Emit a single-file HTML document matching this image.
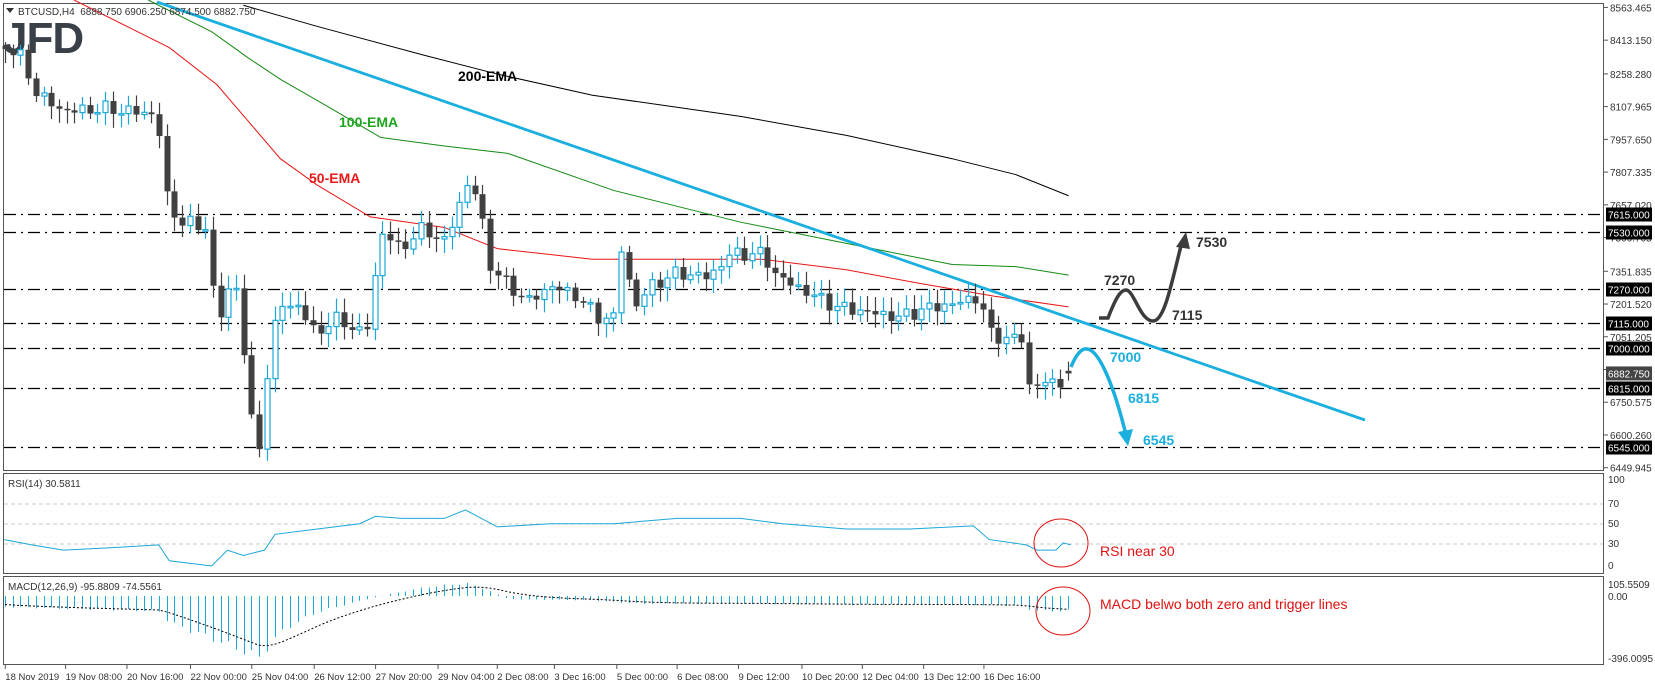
<!DOCTYPE html>
<html><head><meta charset="utf-8"><style>
html,body{margin:0;padding:0;background:#fff;}
svg{display:block;font-family:"Liberation Sans",Tahoma,sans-serif;}
</style></head><body>
<svg id="s" width="1655" height="686" viewBox="0 0 1655 686" xmlns="http://www.w3.org/2000/svg"></svg>
<script>
const S=document.getElementById('s');let h='';
const K=1.058;
function line(x1,y1,x2,y2,c,w,d){h+=`<line x1="${x1}" y1="${y1}" x2="${x2}" y2="${y2}" stroke="${c}" stroke-width="${w||1}" ${d?`stroke-dasharray="${d}"`:''}/>`;}
function txt(x,y,t,sz,c,extra){h+=`<text x="${x}" y="${y}" font-size="${sz}" fill="${c}" ${extra||''}>${t}</text>`;}
function poly(pts,c,w,d){h+=`<polyline fill="none" stroke="${c}" stroke-width="${w}" ${d?`stroke-dasharray="${d}"`:''} points="${pts.map(p=>p.join(',')).join(' ')}"/>`;}
function interp(kp,x){for(let i=0;i<kp.length-1;i++){if(x>=kp[i][0]&&x<=kp[i+1][0]){const t=(x-kp[i][0])/(kp[i+1][0]-kp[i][0]);return kp[i][1]+t*(kp[i+1][1]-kp[i][1]);}}return x<kp[0][0]?kp[0][1]:kp[kp.length-1][1];}
const sc=a=>a.map(p=>[p[0]*K,p[1]*K]);
h+=`<rect x="3.5" y="3.5" width="1600" height="467" fill="none" stroke="#555"/>`;
h+=`<rect x="3.5" y="473.5" width="1600" height="100" fill="none" stroke="#555"/>`;
h+=`<rect x="3.5" y="576.5" width="1600" height="88" fill="none" stroke="#555"/>`;
const yP=p=>447-(p-6545)/4.592;
// logo first (behind)
txt(3,53,'JFD',44,'#3a4048',' font-weight="bold" letter-spacing="-1"');
[8563.465,8413.150,8258.280,8107.965,7957.650,7807.335,7657.020,7506.705,7351.835,7201.520,7051.205,6900.890,6750.575,6600.260,6449.945].forEach(p=>{const y=yP(p);line(1604,y,1608,y,'#555');txt(1610,y+4,p.toFixed(3),10,'#333');});
[[7615,'7615.000'],[7530,'7530.000'],[7270,'7270.000'],[7115,'7115.000'],[7000,'7000.000'],[6815,'6815.000'],[6545,'6545.000']].forEach(([p,t])=>{const y=Math.round(yP(p))+.5;line(4,y,1603,y,'#000',1.2,'12,5,2,5');h+=`<rect x="1606" y="${y-7}" width="46" height="14" fill="#000"/>`;txt(1608,y+4,t,10,'#fff');});
{const y=yP(6882.75);h+=`<rect x="1606" y="${y-7}" width="46" height="14" fill="#444"/>`;txt(1608,y+4,'6882.750',10,'#fff');}
poly(sc([[230,5],[300,25],[400,52],[470,70],[560,90],[700,110],[800,128],[900,150],[960,165],[1010,185]]),'#000',1);
poly(sc([[140,0],[200,30],[235,55],[265,75],[300,95],[360,130],[420,138],[480,145],[580,180],[640,195],[700,210],[800,230],[900,250],[960,252],[1010,260]]),'#138a13',1);
poly(sc([[70,0],[130,30],[160,45],[205,80],[235,115],[265,150],[300,175],[350,205],[420,215],[470,235],[560,245],[660,245],[720,245],[800,255],[870,268],[940,280],[1010,290]]),'#e81515',1);
line(157,2,1365,420,'#1aafde',2.8);
const kp=sc([[0,40],[20,55],[35,90],[60,105],[100,103],[148,108],[158,190],[170,210],[195,215],[205,310],[215,275],[225,270],[235,390],[245,420],[255,330],[265,285],[280,290],[300,315],[320,300],[345,320],[352,270],[362,220],[380,235],[400,215],[420,230],[440,175],[452,185],[462,250],[480,270],[500,285],[520,270],[545,280],[565,300],[580,300],[587,235],[600,290],[615,270],[640,258],[670,262],[690,240],[720,240],[735,262],[770,280],[790,290],[820,295],[850,300],[870,293],[910,285],[925,280],[935,315],[950,320],[966,320],[972,365],[985,362],[1000,362],[1010,350]]);
let prev=interp(kp,5);
for(let i=0;i<=138;i++){const x=5+i*7.7;let c=interp(kp,x)+Math.sin(i*2.3)*5+Math.cos(i*1.7)*3;if(i==138)c=yP(6882.75);
const o=i==138?yP(6895):prev;const top=Math.min(o,c),bot=Math.max(o,c);const wt=top-(4+Math.abs(Math.sin(i*3.1))*10),wb=bot+(4+Math.abs(Math.cos(i*2.7))*10);
const bull=c<o;const col=bull?'#1ba9d9':'#404040';const xc=Math.round(x)+.5;
line(xc,wt,xc,wb,col,1.2);
const hgt=Math.max(bot-top,1.5);
if(bull)h+=`<rect x="${xc-2.5}" y="${top}" width="5" height="${hgt}" fill="#fff" stroke="${col}" stroke-width="1.2"/>`;
else h+=`<rect x="${xc-3}" y="${top}" width="6" height="${hgt}" fill="${col}"/>`;
prev=c;}
const b='font-weight="bold"';
txt(458,81,'200-EMA',14,'#000',b);txt(339,127,'100-EMA',14,'#1ea51e',b);txt(309,183,'50-EMA',14,'#e81a1a',b);
h+=`<path d="M1099,318 L1108,318 C1115,300 1120,290 1126,290 C1134,290 1140,321 1153,321 C1165,321 1172,280 1182,242" fill="none" stroke="#3c3c3c" stroke-width="3.5"/>`;
h+=`<polygon points="1186,232 1176,247 1190,249" fill="#3c3c3c"/>`;
txt(1104,285,'7270',14,'#333',b);txt(1172,320,'7115',14,'#333',b);txt(1196,247,'7530',14,'#333',b);
h+=`<path d="M1071,367 C1077,352 1083,348 1087,349 C1100,350 1115,390 1126,435" fill="none" stroke="#1aafde" stroke-width="3.5"/>`;
h+=`<polygon points="1128,446 1118,432 1133,429" fill="#1aafde"/>`;
txt(1110,362,'7000',14,'#1aafde',b);txt(1128,403,'6815',14,'#1aafde',b);txt(1143,445,'6545',14,'#1aafde',b);
h+=`<polygon points="6,8 14,8 10,13" fill="#333"/>`;
txt(18,15,'BTCUSD,H4&nbsp; 6888.750 6906.250 6874.500 6882.750',10,'#333');
[[504,70],[524,50],[544,30]].forEach(([y,v])=>{line(4,y,1603,y,'#c8c8c8',1,'4,3');});
[[100,483],[70,507],[50,527],[30,547],[0,569]].forEach(([v,y])=>txt(1608,y,v,10,'#333'));
txt(8,487,'RSI(14) 30.5811',10,'#333');
poly(sc([[4,510],[30,515],[60,520],[100,518],[150,515],[160,530],[200,535],[215,520],[230,525],[250,520],[260,505],[300,500],[340,495],[355,488],[380,490],[420,490],[440,482],[455,490],[470,498],[520,495],[580,495],[640,490],[700,490],[740,495],[800,500],[860,500],[920,497],[935,510],[970,515],[980,520],[998,520],[1005,513],[1012,515]]),'#1aa7d8',1);
h+=`<ellipse cx="1061" cy="543" rx="27" ry="24" fill="none" stroke="#e01010" stroke-width="1"/>`;
txt(1100,556,'RSI near 30',14,'#e01010');
txt(1608,588,'105.5509',10,'#333');txt(1608,600,'0.00',10,'#333');txt(1608,662,'-396.0095',10,'#333');
txt(8,590,'MACD(12,26,9) -95.8809 -74.5561',10,'#333');
const hk=[[0,-10],[150,-14],[160,-25],[200,-40],[230,-52],[245,-58],[255,-45],[270,-30],[300,-15],[350,-2],[400,8],[440,12],[460,6],[480,-3],[560,-4],[600,-7],[700,-7],[800,-8],[900,-8],[960,-9],[980,-14],[1010,-14]].map(p=>[p[0]*K,p[1]*K]);
const sig=[];
for(let i=0;i<=138;i++){const x=5+i*7.7;const v=interp(hk,x)*(1+0.08*Math.sin(i*1.9));const xc=Math.round(x)+.5;line(xc,596,xc,596-v,'#1ba9d9',1);}
let sv=-8;for(let i=0;i<=138;i++){const x=5+i*7.7;sv=sv+(interp(hk,x)-sv)*0.2;sig.push([x,596-sv]);}
poly(sig,'#000',1,'2,2');
h+=`<ellipse cx="1063" cy="611" rx="27" ry="24" fill="none" stroke="#e01010" stroke-width="1"/>`;
txt(1100,609,'MACD belwo both zero and trigger lines',14,'#e01010');
[['18 Nov 2019',5],['19 Nov 08:00',62],['20 Nov 16:00',120],['22 Nov 00:00',180],['25 Nov 04:00',238],['26 Nov 12:00',297],['27 Nov 20:00',355],['29 Nov 04:00',414],['2 Dec 08:00',470],['3 Dec 16:00',524],['5 Dec 00:00',583],['6 Dec 08:00',640],['9 Dec 12:00',698],['10 Dec 20:00',758],['12 Dec 04:00',815],['13 Dec 12:00',873],['16 Dec 16:00',930]].forEach(([t,x])=>{const X=x*K;line(X,665,X,669,'#555');txt(X,680,t,9.5,'#333');});
S.innerHTML=h;
</script>
</body></html>
